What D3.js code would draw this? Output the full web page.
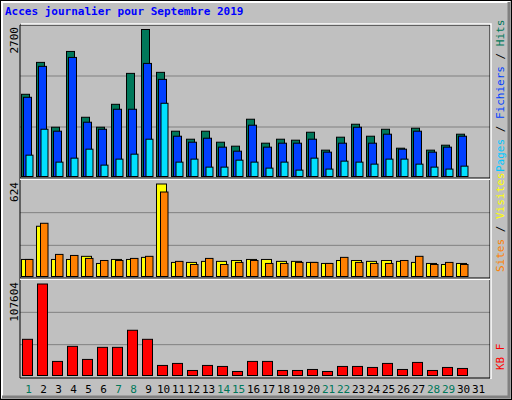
<!DOCTYPE html>
<html><head><meta charset="utf-8">
<script src="https://cdn.jsdelivr.net/npm/d3@7"></script>
<style>body{margin:0;background:#fff}svg{display:block}text{font-family:"DejaVu Sans Mono",monospace}</style>
</head><body><div id="chart"></div>
<script>
const days = d3.range(1, 31);
const dayLabels = d3.range(1, 32);
const weekend = [1, 7, 8, 14, 15, 21, 22, 28, 29];
const hits = [1510,2096,905,2297,1088,905,1326,1894,2700,1913,832,685,832,630,557,1052,612,685,667,813,484,722,960,740,868,520,887,484,575,777];
const files = [1455,2023,832,2187,997,868,1235,1235,2077,1784,740,630,703,539,465,942,539,612,612,685,447,612,905,612,777,502,832,447,539,740];
const pages = [392,868,264,337,502,209,319,410,685,1345,264,319,172,172,300,264,154,264,117,337,136,282,264,227,319,319,227,172,136,190];
const visits = [115,339,115,115,136,88,115,115,129,624,95,95,102,102,108,115,115,102,102,95,88,108,108,102,108,102,95,88,81,88];
const sites = [115,359,149,142,122,108,108,122,136,570,102,81,122,81,95,108,88,88,95,95,88,129,95,88,88,108,136,81,95,81];
const kb = [42560,107604,16550,34280,18900,33100,33100,53200,42560,11820,14180,5910,11820,10640,4730,16550,16550,5910,5910,7090,4730,10640,10640,9460,14180,7090,15370,5910,9460,8270];
const maxLabels = ["2700", "624", "107604"];

const W = 512, H = 400, L = 20, R = 490;
const svg = d3.select('#chart').append('svg').attr('width', W).attr('height', H);

// frame
svg.append('rect').attr('x', 0.5).attr('y', 0.5).attr('width', W - 1).attr('height', H - 1)
  .attr('fill', '#c0c0c0').attr('stroke', '#000');
svg.append('path').attr('d', `M2,${H-2}V2H${W-2}`).attr('fill', 'none').attr('stroke', '#fff').attr('stroke-width', 2);
svg.append('path').attr('d', `M2,${H-3}H${W-3}V2`).attr('fill', 'none').attr('stroke', '#808080').attr('stroke-width', 3);

svg.append('text').attr('x', 5).attr('y', 15).attr('fill', '#0000ff').attr('font-weight', 'bold')
  .attr('font-size', 11).text('Acces journalier pour Septembre 2019');

const x = d3.scaleBand().domain(dayLabels).range([L + 3, L + 3 + 15 * 31]);

const panels = [
  {top: 25, bottom: 178, max: 2700},
  {top: 180, bottom: 278, max: 624},
  {top: 280, bottom: 377, max: 107604}
];
panels.forEach((p, i) => {
  p.y = d3.scaleLinear().domain([0, p.max]).range([p.bottom - 1.5, p.top + (i === 0 ? 4.5 : 4)]);
  const h = p.bottom - p.top;
  [1, 2].forEach(k => svg.append('line').attr('x1', L).attr('x2', R)
    .attr('y1', p.top + h * k / 3).attr('y2', p.top + h * k / 3).attr('stroke', '#808080'));
  svg.append('text').attr('transform', `translate(18,${p.top + 2}) rotate(-90)`)
    .attr('text-anchor', 'end').attr('font-size', 11).attr('fill', '#000').text(maxLabels[i]);
});

// borders
svg.append('path').attr('d', `M${L},${panels[0].top}H${R}V378H${L}Z`).attr('fill', 'none').attr('stroke', '#000').attr('stroke-width', 1);
svg.append('path').attr('d', `M${L + 1},${panels[0].top - 1}H${R + 1}V379`).attr('fill', 'none').attr('stroke', '#fff').attr('stroke-width', 1.5);
[179, 279].forEach(yy => svg.append('line').attr('x1', L).attr('x2', R).attr('y1', yy).attr('y2', yy)
  .attr('stroke', '#fff').attr('stroke-width', 2));
svg.append('line').attr('x1', L).attr('x2', R).attr('y1', 178).attr('y2', 178).attr('stroke', '#000');
svg.append('line').attr('x1', L).attr('x2', R).attr('y1', 278).attr('y2', 278).attr('stroke', '#000');

function bars(vals, p, dx, w, color) {
  svg.append('g').selectAll('rect').data(vals).enter().append('rect')
    .attr('x', (d, i) => x(days[i]) + dx - 1.5)
    .attr('width', w)
    .attr('y', d => p.y(d))
    .attr('height', d => p.y(0) - p.y(d))
    .attr('fill', color).attr('stroke', '#000').attr('stroke-width', 1);
}
bars(hits, panels[0], 0, 8, '#00785a');
bars(files, panels[0], 2, 8, '#0040ff');
bars(pages, panels[0], 4.5, 7, '#00e0ff');
bars(visits, panels[1], 0, 10, '#ffff00');
bars(sites, panels[1], 4, 7.5, '#ff8000');
bars(kb, panels[2], 1, 10, '#ff0000');

// x labels
svg.append('g').selectAll('text').data(dayLabels).enter().append('text')
  .attr('x', d => x(d) + 5.5).attr('y', 393).attr('text-anchor', 'middle').attr('font-size', 11)
  .attr('fill', d => weekend.includes(d) ? '#00785a' : '#000').text(d => d);

// right legends
function legend(yEnd, parts) {
  const t = svg.append('text').attr('transform', `translate(504,${yEnd}) rotate(-90)`).attr('font-size', 11);
  parts.forEach(([s, c]) => t.append('tspan').attr('fill', c).text(s));
}
legend(172, [['Pages', '#00c8ff'], [' / ', '#000'], ['Fichiers', '#0040ff'], [' / ', '#000'], ['Hits', '#00785a']]);
legend(272, [['Sites', '#ff8000'], [' / ', '#000'], ['Visites', '#ffff00']]);
legend(370, [['KB F', '#ff0000']]);
</script></body></html>
